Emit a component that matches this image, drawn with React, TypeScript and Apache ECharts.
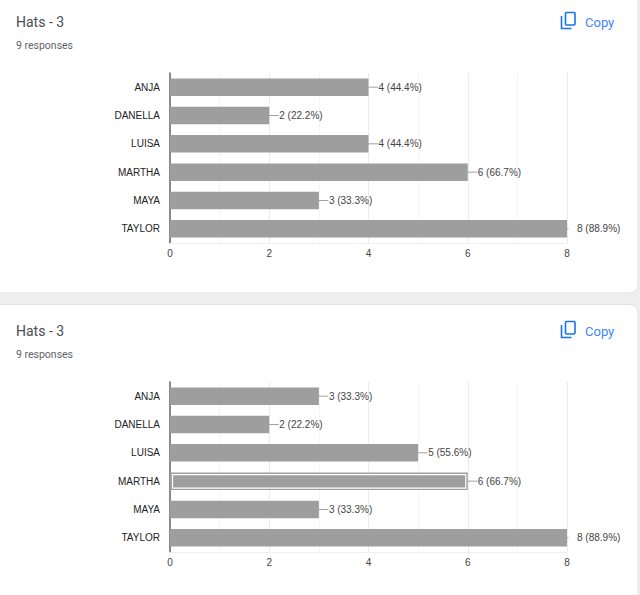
import React, { useEffect, useRef } from "react";
import * as echarts from "echarts";

const names = ["ANJA", "DANELLA", "LUISA", "MARTHA", "MAYA", "TAYLOR"];
const valuesTop = [4, 2, 4, 6, 3, 8];
const valuesBottom = [3, 2, 5, 6, 3, 8];
const responses = 9;
const highlightedName = "MARTHA";
const titleText = "Hats - 3";
const responsesText = "9 responses";
const copyText = "Copy";

const SANS = "'Liberation Sans', Arial, sans-serif";
const UI = "Roboto, sans-serif";
const BAR = "#9e9e9e";
const LEADER = "#a0a0a0";

const labelFor = (v: number) => `${v} (${((v / responses) * 100).toFixed(1)}%)`;

function header(y: number) {
  const iconStroke = { stroke: "#1a73e8", lineWidth: 1.6, fill: "none" };
  return [
    { type: "text", z: 5, x: 16, y: y, style: { text: titleText, font: `14px ${UI}`, fill: "#4a4d50", textVerticalAlign: "middle" } },
    { type: "text", z: 5, x: 16, y: y + 23, style: { text: responsesText, font: `10.5px ${UI}`, fill: "#5f6368", textVerticalAlign: "middle" } },
    { type: "rect", z: 5, shape: { x: 565.5, y: y - 9.5, width: 9.5, height: 12.5, r: 1 }, style: iconStroke },
    { type: "polyline", z: 5, shape: { points: [[561.5, y - 6], [561.5, y + 6.5], [571.5, y + 6.5]] }, style: iconStroke },
    { type: "text", z: 5, x: 585, y: y, style: { text: copyText, font: `13px ${UI}`, fill: "#4285f4", textVerticalAlign: "middle" } },
  ];
}

function gridAxes(index: number, top: number) {
  return {
    grid: { left: 170, width: 397, top, height: 170, containLabel: false },
    xAxis: {
      type: "value",
      gridIndex: index,
      min: 0,
      max: 8,
      interval: 2,
      axisLine: { show: true, lineStyle: { color: "#f0f0f0", width: 1 } },
      axisTick: { show: false },
      axisLabel: { color: "#444444", fontFamily: SANS, fontSize: 10, margin: 5 },
      splitLine: { show: true, lineStyle: { color: "#ebebeb", width: 1 } },
      minorTick: { show: false, splitNumber: 2 },
      minorSplitLine: { show: true, lineStyle: { color: "#f5f5f5", width: 1 } },
    },
    yAxis: {
      type: "category",
      gridIndex: index,
      data: names,
      inverse: true,
      axisLine: { show: true, lineStyle: { color: "#666666", width: 1.5 } },
      axisTick: { show: false },
      axisLabel: { color: "#222222", fontFamily: SANS, fontSize: 10, margin: 10 },
      splitLine: { show: false },
    },
  };
}

function chartSeries(index: number, values: number[]) {
  return [
    {
      type: "bar",
      xAxisIndex: index,
      yAxisIndex: index,
      data: values,
      barWidth: 17.5,
      z: 2,
      itemStyle: { color: BAR },
      label: {
        show: true,
        position: "right",
        distance: 10,
        color: "#444444",
        fontFamily: SANS,
        fontSize: 10,
        formatter: (p: any) => labelFor(p.value),
      },
    },
    {
      type: "custom",
      xAxisIndex: index,
      yAxisIndex: index,
      z: 3,
      silent: true,
      data: values.map((v, i) => [v, i]),
      encode: { x: 0, y: 1 },
      renderItem: (params: any, api: any) => {
        const p = api.coord([api.value(0), api.value(1)]);
        const maxX = params.coordSys.x + params.coordSys.width + 1.5;
        return {
          type: "line",
          shape: { x1: p[0], y1: p[1], x2: Math.min(p[0] + 9.5, maxX), y2: p[1] },
          style: { stroke: LEADER, lineWidth: 1 },
        };
      },
    },
  ];
}

function highlightSeries(index: number, values: number[]) {
  const i = names.indexOf(highlightedName);
  return {
    type: "custom",
    xAxisIndex: index,
    yAxisIndex: index,
    z: 4,
    silent: true,
    data: [[values[i], i]],
    encode: { x: 0, y: 1 },
    renderItem: (_: any, api: any) => {
      const end = api.coord([api.value(0), api.value(1)]);
      const start = api.coord([0, api.value(1)]);
      return {
        type: "rect",
        shape: { x: start[0] + 2.5, y: end[1] - 6.5, width: end[0] - start[0] - 4.5, height: 13.5 },
        style: { fill: "none", stroke: "#ffffff", lineWidth: 1.2 },
      };
    },
  };
}

export default function App() {
  const ref = useRef<HTMLDivElement>(null);
  useEffect(() => {
    const chart = echarts.init(ref.current!, undefined, { renderer: "svg" });
    const a = gridAxes(0, 73);
    const b = gridAxes(1, 382);
    chart.setOption({
      animation: false,
      backgroundColor: "#eeeeee",
      textStyle: { fontFamily: SANS },
      grid: [a.grid, b.grid],
      xAxis: [a.xAxis, b.xAxis],
      yAxis: [a.yAxis, b.yAxis],
      series: [
        ...chartSeries(0, valuesTop),
        ...chartSeries(1, valuesBottom),
        highlightSeries(1, valuesBottom),
      ],
      graphic: [
        { type: "rect", z: -10, shape: { x: -10, y: -20, width: 648, height: 313, r: 8 }, style: { fill: "#ffffff", stroke: "#e3e3e3", lineWidth: 1 } },
        { type: "rect", z: -10, shape: { x: -10, y: 304.5, width: 648, height: 320, r: 8 }, style: { fill: "#ffffff", stroke: "#e3e3e3", lineWidth: 1 } },
        ...header(22),
        ...header(331),
      ],
    });
    return () => chart.dispose();
  }, []);
  return <div ref={ref} style={{ position: "fixed", left: 0, top: 0, width: 640, height: 595 }} />;
}
